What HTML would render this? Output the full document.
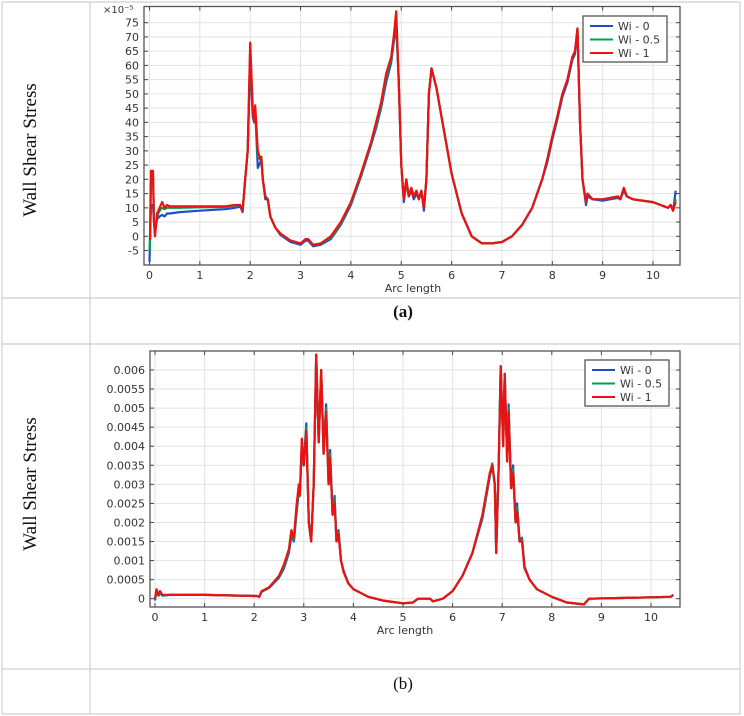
<!DOCTYPE html>
<html><head><meta charset="utf-8"><style>
html,body{margin:0;padding:0;background:#fff;}
svg{display:block;}
</style></head><body>
<svg id="root" width="744" height="716" xmlns="http://www.w3.org/2000/svg">
<g stroke="#cfcfcf" stroke-width="1.2" fill="none">
<line x1="2" y1="2" x2="740" y2="2"/><line x1="2" y1="298" x2="740" y2="298"/><line x1="2" y1="344" x2="740" y2="344"/><line x1="2" y1="669" x2="740" y2="669"/><line x1="2" y1="714" x2="740" y2="714"/>
<line x1="2" y1="2" x2="2" y2="714"/><line x1="90" y1="2" x2="90" y2="714"/><line x1="740" y1="2" x2="740" y2="714"/>
</g>
<text transform="translate(36,150) rotate(-90)" text-anchor="middle" font-family="Liberation Serif, serif" font-size="19" fill="#111">Wall Shear Stress</text>
<text transform="translate(36,484) rotate(-90)" text-anchor="middle" font-family="Liberation Serif, serif" font-size="19" fill="#111">Wall Shear Stress</text>
<text x="403" y="317" text-anchor="middle" font-family="Liberation Serif, serif" font-size="17" font-weight="bold" fill="#111">(a)</text>
<text x="403" y="689" text-anchor="middle" font-family="Liberation Serif, serif" font-size="17" fill="#111">(b)</text>
<g id="chartA"></g>
<g id="chartB"></g>
</svg>
<script>
// ---- Chart A data (×1e-5) ----
const aX = [0,0.01,0.03,0.07,0.09,0.11,0.15,0.2,0.25,0.3,0.35,0.4,0.6,1.0,1.5,1.7,1.8,1.85,1.9,1.95,2.0,2.05,2.08,2.1,2.15,2.2,2.22,2.25,2.3,2.35,2.4,2.5,2.6,2.8,3.0,3.1,3.15,3.25,3.4,3.6,3.8,4.0,4.2,4.4,4.5,4.6,4.7,4.8,4.85,4.9,4.95,5.0,5.05,5.1,5.15,5.2,5.25,5.3,5.35,5.4,5.45,5.5,5.55,5.6,5.7,5.8,6.0,6.2,6.4,6.6,6.8,7.0,7.2,7.4,7.6,7.8,7.9,8.0,8.1,8.2,8.3,8.4,8.45,8.5,8.55,8.6,8.67,8.7,8.8,9.0,9.3,9.35,9.42,9.48,9.6,10.0,10.3,10.35,10.4,10.45];
const aWi0 = [-9,-1,11,11,5,2,6,7,7.5,7,8,8,8.5,9,9.5,10,10.5,8.5,20,30,62,42,40,44,24,26,27,20,13,13,7,3,0.5,-2,-3,-1.5,-1.5,-3.5,-3,-1,4,11,21,32,38,45,54,61,68,74,55,25,12,19,14,16,13,15,13,16,9,20,50,59,52,42,22,8,0,-2.5,-2.5,-2,0,4,10,20,26,34,41,49,54,62,64,72,40,20,11,14,13,12.5,13.5,13,16,14,13,12,10,11,9,16];
const aWi05 = [-5,-1,20,21,5,1,7,9,10,9.5,10,10,10,10.2,10.3,10.8,11,9,20,30,66,44,40,45,28,27,28,20,14,13,7,3,1,-1.5,-2.5,-1,-1,-3,-2.5,-0.5,4.5,11.5,21.5,32.5,39,46,56,62,69,76,55,25,13,20,14,17,14,16,13,16,10,20,50,59,52,42,22,8,0,-2.5,-2.5,-2,0,4,10,20,27,35,42,50,55,63,65,73,40,20,12,15,13,13,14,13,17,14,13,12,10,11,9,13];
const aWi1 = [-1,-1,23,23,5,0,8,10,12,10,11,10.5,10.5,10.5,10.5,11,11,9,20,30,68,45,40,46,30,27,28,20,14,13,7,3,1,-1.5,-2.5,-1,-1,-3,-2.5,0,5,12,22,33,40,47,57,63,70,79,55,25,13,20,14,17,14,16,13,16,10,20,50,59,52,42,22,8,0,-2.5,-2.5,-2,0,4,10,20,27,35,42,50,55,63,65,73,40,20,12,15,13,13,14,13,17,14,13,12,10,11,9,12];
const aYTicks = [-5,0,5,10,15,20,25,30,35,40,45,50,55,60,65,70,75];
const aXTicks = [0,1,2,3,4,5,6,7,8,9,10];

// ---- Chart B data ----
const bX = [0,0.03,0.07,0.1,0.15,0.3,1,2.05,2.1,2.15,2.3,2.5,2.6,2.7,2.75,2.8,2.85,2.9,2.92,2.96,3.0,3.05,3.1,3.15,3.2,3.25,3.3,3.35,3.4,3.45,3.5,3.53,3.58,3.62,3.66,3.7,3.75,3.8,3.9,4.0,4.3,4.6,5.0,5.2,5.3,5.55,5.6,5.8,6.0,6.2,6.4,6.6,6.75,6.8,6.85,6.88,6.93,6.97,7.02,7.05,7.1,7.13,7.18,7.22,7.27,7.3,7.35,7.4,7.45,7.55,7.7,8.0,8.3,8.65,8.75,9.5,10.4,10.45];
const bWi0 = [-0.05,0.2,0.08,0.15,0.08,0.1,0.1,0.07,0.05,0.18,0.28,0.55,0.8,1.2,1.65,1.5,2.2,2.8,2.7,3.9,3.5,4.6,2.0,1.5,3.0,6.4,4.1,6.0,3.8,5.1,3.0,3.9,2.2,2.7,1.5,1.8,1.0,0.75,0.4,0.25,0.05,-0.05,-0.12,-0.1,0,0,-0.07,0,0.2,0.6,1.2,2.1,3.2,3.5,3.0,1.2,3.5,6.1,4.0,5.9,3.6,5.1,2.9,3.5,2.0,2.5,1.5,1.6,0.85,0.5,0.25,0.05,-0.1,-0.15,0,0.02,0.05,0.1];
const bWi05 = [-0.02,0.22,0.09,0.18,0.09,0.1,0.1,0.07,0.05,0.19,0.29,0.58,0.85,1.25,1.75,1.55,2.3,2.9,2.7,4.0,3.5,4.5,2.0,1.5,3.0,6.4,4.1,6.0,3.8,5.0,3.0,3.8,2.2,2.6,1.5,1.75,1.0,0.72,0.4,0.25,0.05,-0.05,-0.12,-0.1,0,0,-0.07,0,0.2,0.6,1.2,2.15,3.25,3.55,3.0,1.2,3.5,6.1,4.0,5.9,3.6,5.0,2.9,3.4,2.0,2.4,1.5,1.55,0.82,0.5,0.25,0.05,-0.1,-0.15,0,0.02,0.05,0.1];
const bWi1 = [0,0.25,0.1,0.2,0.1,0.1,0.1,0.07,0.05,0.2,0.3,0.6,0.9,1.3,1.8,1.6,2.4,3.0,2.7,4.2,3.5,4.4,2.0,1.5,3.0,6.4,4.1,6.0,3.8,4.9,3.0,3.7,2.2,2.5,1.5,1.7,1.0,0.7,0.4,0.25,0.05,-0.05,-0.12,-0.1,0,0,-0.07,0,0.2,0.6,1.2,2.2,3.3,3.5,3.0,1.2,3.5,6.1,4.0,5.9,3.6,4.9,2.9,3.3,2.0,2.3,1.5,1.5,0.8,0.5,0.25,0.05,-0.1,-0.15,0,0.02,0.05,0.1];
const bYTicks = ["0","0.0005","0.001","0.0015","0.002","0.0025","0.003","0.0035","0.004","0.0045","0.005","0.0055","0.006"];
const bXTicks = [0,1,2,3,4,5,6,7,8,9,10];

const seriesNames = ["Wi - 0","Wi - 0.5","Wi - 1"];
const seriesColors = ["#1f4fc4","#00a055","#ee1111"];
const NS = "http://www.w3.org/2000/svg";
function mk(tag, attrs, parent){const e=document.createElementNS(NS,tag);for(const k in attrs)e.setAttribute(k,attrs[k]);parent.appendChild(e);return e;}

function drawChart(g, cfg){
  const sx = v => cfg.x0 + v*cfg.xs;
  const sy = v => cfg.y0 - v*cfg.ys;
  const L=cfg.left,R=cfg.right,T=cfg.top,B=cfg.bottom;
  // grid
  cfg.xTicks.forEach(t=>{
    const l=mk("line",{x1:sx(t),x2:sx(t),y1:T,y2:B,stroke:"#e2e2e2","stroke-width":1},g);
    
    
  });
  cfg.yTicks.forEach(t=>{
    const v=parseFloat(t)*cfg.yMul;
    const l=mk("line",{x1:L,x2:R,y1:sy(v),y2:sy(v),stroke:"#e2e2e2","stroke-width":1},g);
    
    
  });
  // series
  [cfg.s0,cfg.s1,cfg.s2].forEach((ys,i)=>{
    const d=cfg.xs_.map((x,j)=>(j?"L":"M")+sx(x).toFixed(1)+","+sy(ys[j]).toFixed(1)).join("");
    const p=mk("path",{d:d,fill:"none",stroke:seriesColors[i],"stroke-width":2.2,"stroke-linejoin":"round"},g);
    
    
  });
  // frame
  const f=mk("rect",{x:L,y:T,width:R-L,height:B-T,fill:"none",stroke:"#555","stroke-width":1.3},g);
  
  
  // ticks & labels
  cfg.xTicks.forEach(t=>{
    mk("line",{x1:sx(t),x2:sx(t),y1:B,y2:B-4,stroke:"#444"},g);
    mk("line",{x1:sx(t),x2:sx(t),y1:T,y2:T+4,stroke:"#444"},g);
    const tx=mk("text",{x:sx(t),y:B+14,"text-anchor":"middle","font-family":"DejaVu Sans, sans-serif","font-size":11,fill:"#333"},g);
    tx.textContent=t;
    
    
  });
  cfg.yTicks.forEach(t=>{
    const y=sy(parseFloat(t)*cfg.yMul);
    mk("line",{x1:L,x2:L+4,y1:y,y2:y,stroke:"#444"},g);
    mk("line",{x1:R,x2:R-4,y1:y,y2:y,stroke:"#444"},g);
    const tx=mk("text",{x:L-5,y:y+4,"text-anchor":"end","font-family":"DejaVu Sans, sans-serif","font-size":11,fill:"#333"},g);
    tx.textContent=t;
    
    
  });
  const xl=mk("text",{x:cfg.xlabX,y:B+27,"text-anchor":"middle","font-family":"DejaVu Sans, sans-serif","font-size":11,fill:"#333"},g);
  xl.textContent="Arc length";
  
  
  // legend
  const lg=mk("g",{},g);
  
  
  mk("rect",{x:cfg.lx,y:cfg.ly,width:84,height:46,fill:"#fff",stroke:"#555","stroke-width":1.3},lg);
  seriesNames.forEach((n,i)=>{
    const y=cfg.ly+10+i*13.5;
    mk("line",{x1:cfg.lx+7,x2:cfg.lx+30,y1:y,y2:y,stroke:seriesColors[i],"stroke-width":2},lg);
    const t=mk("text",{x:cfg.lx+35,y:y+4,"font-family":"DejaVu Sans, sans-serif","font-size":11,fill:"#333"},lg);
    t.textContent=n;
    
    
  });
}

const gA=document.getElementById("chartA");
drawChart(gA,{x0:149.5,xs:50.35,y0:236.3,ys:2.848,yMul:1,left:144,right:680,top:6.5,bottom:265,
  xs_:aX,s0:aWi0,s1:aWi05,s2:aWi1,xTicks:aXTicks,yTicks:aYTicks.map(String),xlabX:413,lx:583,ly:16});
const ex=mk("text",{x:103,y:13,"font-family":"DejaVu Sans, sans-serif","font-size":10,fill:"#333"},gA);
ex.textContent="×10⁻⁵";



const gB=document.getElementById("chartB");
drawChart(gB,{x0:155,xs:49.6,y0:598.7,ys:38.12,yMul:1000,left:150,right:680,top:351,bottom:607,
  xs_:bX,s0:bWi0,s1:bWi05,s2:bWi1,xTicks:bXTicks,yTicks:bYTicks,xlabX:405,lx:585,ly:360});
</script>
</body></html>
